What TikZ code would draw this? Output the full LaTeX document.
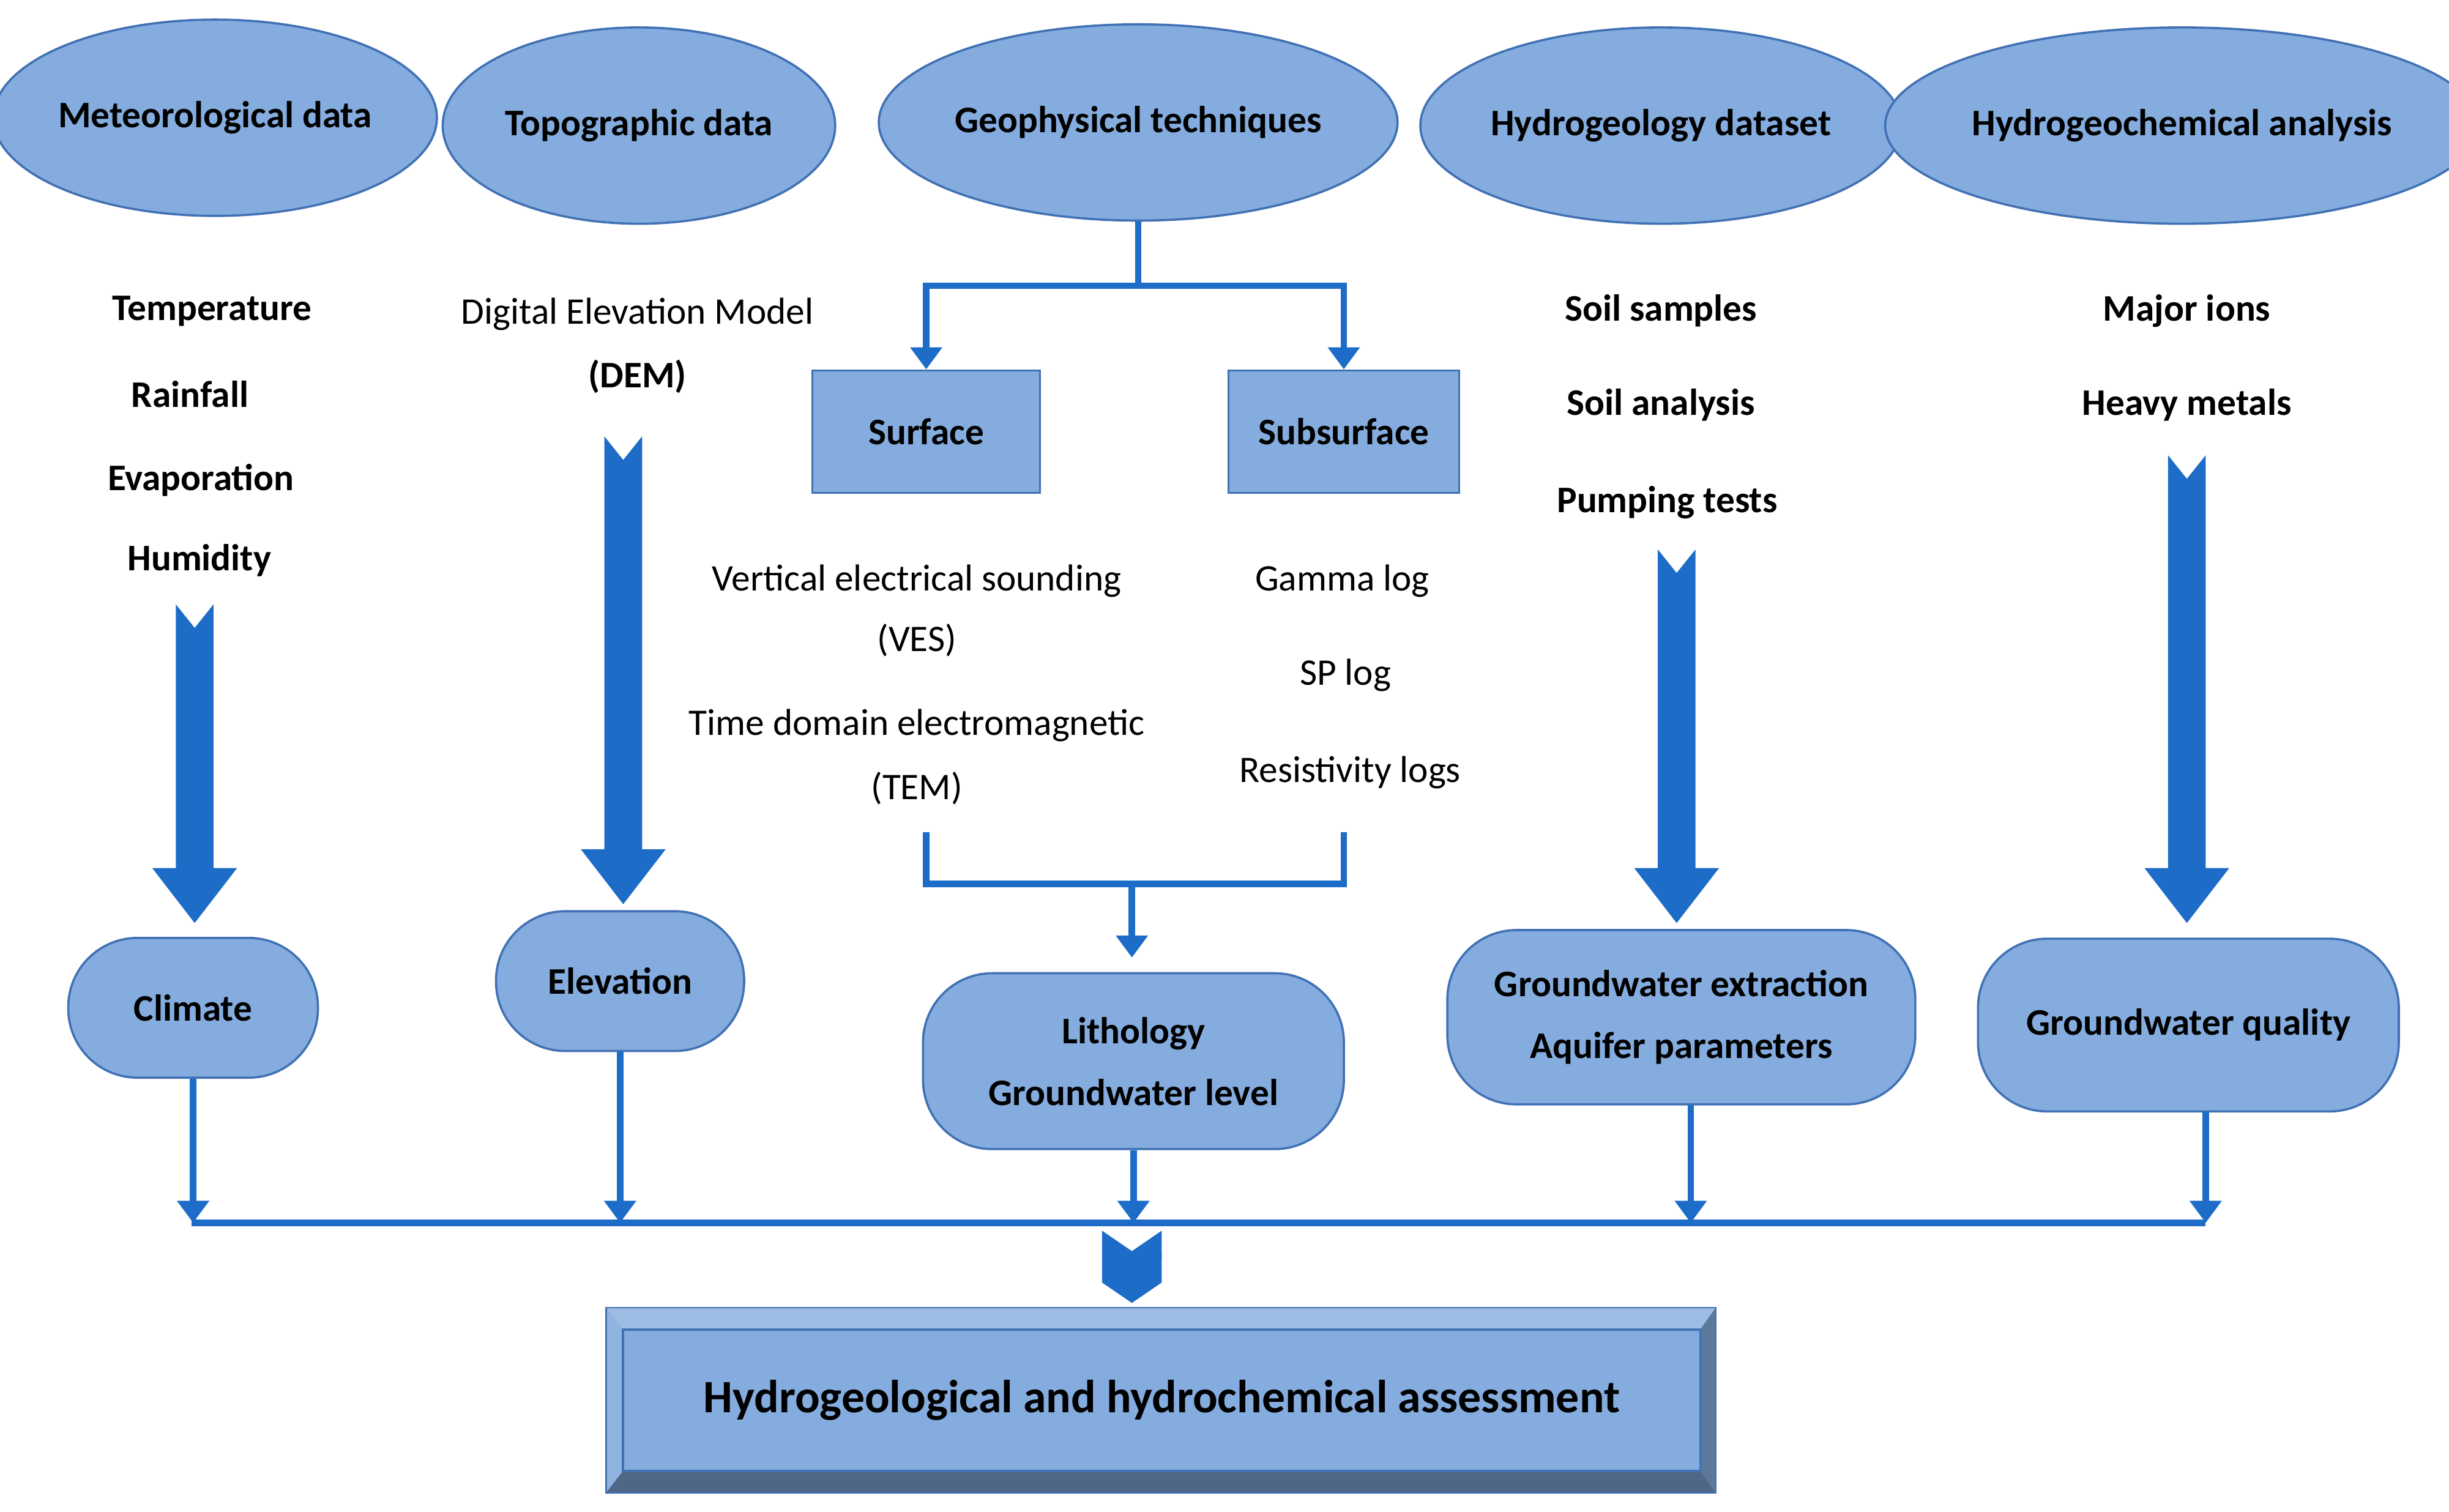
\documentclass[tikz,border=0pt]{standalone}
\usepackage{fontspec}
\setmainfont{Carlito}
\usetikzlibrary{shapes.geometric,arrows.meta}
\definecolor{fillb}{RGB}{132,172,222}
\definecolor{edgeb}{RGB}{65,113,180}
\definecolor{arrb}{RGB}{28,108,200}
\begin{document}
\begin{tikzpicture}[x=0.025cm,y=-0.025cm,
  ell/.style={ellipse,draw=edgeb,line width=1pt,fill=fillb,minimum width=#1*0.025cm,minimum height=3.125cm,font=\fontsize{17}{20}\selectfont\bfseries,inner sep=0pt},
  rbox/.style={draw=edgeb,line width=1pt,fill=fillb,rounded corners=1.1cm,font=\fontsize{17}{20}\selectfont\bfseries,inner sep=0pt},
  sbox/.style={draw=edgeb,line width=1pt,fill=fillb,font=\fontsize{17}{20}\selectfont\bfseries,inner sep=0pt},
  txt/.style={font=\fontsize{17}{20}\selectfont\bfseries},
  ntxt/.style={font=\fontsize{17}{20}\selectfont},
  conn/.style={draw=arrb,line width=3pt},
  carr/.style={conn,-{Triangle[length=10pt,width=14pt]}},
  big/.style={fill=arrb}]
\useasboundingbox (0,0) rectangle (1560,963);
\newcommand{\bigarrow}[3]{\fill[arrb] (#1-12,#2) -- (#1,#2+15) -- (#1+12,#2) -- (#1+12,#3-35) -- (#1+27,#3-35) -- (#1,#3) -- (#1-27,#3-35) -- (#1-12,#3-35) -- cycle;}
% ellipses
\node[ell=250] (met) at (137,75) {Meteorological data};
\node[ell=250] (topo) at (407,80) {Topographic data};
\node[ell=290] (geo) at (725,78) {Geophysical techniques};
\node[ell=288] (hyd) at (1058,80) {Hydrogeology dataset};
\node[ell=328] (hgc) at (1390,80) {Hydrogeochemical analysis};
% texts
\node[txt] (t1) at (135,198) {Temperature};
\node[txt] (t2) at (121,251) {Rainfall};
\node[txt] (t3) at (128,306) {Evaporation};
\node[txt] (t4) at (127,357) {Humidity};
\node[ntxt] (d1) at (406,200) {Digital Elevation Model};
\node[txt] (d2) at (406,240) {(DEM)};
\node[ntxt] (v1) at (584,370) {Vertical electrical sounding};
\node[ntxt] (v2) at (584,408) {(VES)};
\node[ntxt] (v3) at (584,462) {Time domain electromagnetic};
\node[ntxt] (v4) at (584,502) {(TEM)};
\node[ntxt] (g1) at (855,370) {Gamma log};
\node[ntxt] (g2) at (857,430) {SP log};
\node[ntxt] (g3) at (860,492) {Resistivity logs};
\node[txt] (s1) at (1058,198) {Soil samples};
\node[txt] (s2) at (1058,258) {Soil analysis};
\node[txt] (s3) at (1062,320) {Pumping tests};
\node[txt] (m1) at (1393,198) {Major ions};
\node[txt] (m2) at (1393,258) {Heavy metals};
% big arrows
\bigarrow{124}{385}{588}
\bigarrow{397}{278}{576}
\bigarrow{1068}{350}{588}
\bigarrow{1393}{290}{588}
% surface boxes
\node[sbox,minimum width=3.625cm,minimum height=1.95cm] (surf) at (590,275) {Surface};
\node[sbox,minimum width=3.675cm,minimum height=1.95cm] (sub) at (856,275) {Subsurface};
\coordinate (gj) at (725,182);
\draw[conn] (geo.south) -- (gj);
\draw[carr] (gj) -| (surf.north);
\draw[carr] (gj) -| (sub.north);
% result boxes
\node[rbox,minimum width=3.975cm,minimum height=2.225cm] (clim) at (123,642) {Climate};
\node[rbox,minimum width=3.95cm,minimum height=2.225cm] (elev) at (395,625) {Elevation};
\node[rbox,minimum width=6.7cm,minimum height=2.8cm,align=center] (lith) at (722,676) {Lithology\\[8pt]Groundwater level};
\node[rbox,minimum width=7.45cm,minimum height=2.775cm,align=center] (gwe) at (1071,648) {Groundwater extraction\\[8pt]Aquifer parameters};
\node[rbox,minimum width=6.7cm,minimum height=2.75cm] (gwq) at (1394,653) {Groundwater quality};
% bracket
\coordinate (b1) at (590,530); \coordinate (b2) at (856,530);
\coordinate (bm) at (721,563);
\draw[conn] (b1) |- (bm) -| (b2);
\draw[carr] (bm) -- (721,610);
% bottom connector
\coordinate (hl) at (122,779); \coordinate (hr) at (1405,779);
\draw[conn] (hl) -- (hr);
\draw[carr] (clim.south) -- (clim.south |- hl);
\draw[carr] (elev.south) -- (elev.south |- hl);
\draw[carr] (lith.south) -- (lith.south |- hl);
\draw[carr] (1077,704) -- (1077,779);
\draw[carr] (1405,708) -- (1405,779);
% chevrons
\foreach \y in {784,799}
  \fill[arrb] (702,\y) -- (721,\y+13) -- (740,\y) -- (740,\y+18) -- (721,\y+31) -- (702,\y+18) -- cycle;
% bottom bevel box
\fill[fillb!85!black] (386,833) rectangle (1093,951);
\fill[fillb!80!white] (386,833) -- (1093,833) -- (1083,847) -- (397,847) -- cycle;
\fill[fillb!90!white] (386,833) -- (397,847) -- (397,937) -- (386,951) -- cycle;
\fill[fillb!60!black] (386,951) -- (397,937) -- (1083,937) -- (1093,951) -- cycle;
\fill[fillb!70!black] (1093,833) -- (1083,847) -- (1083,937) -- (1093,951) -- cycle;
\draw[edgeb,line width=0.8pt] (386,833) rectangle (1093,951);
\node[sbox,minimum width=17.15cm,minimum height=2.25cm,font=\fontsize{21}{24}\selectfont\bfseries] (ha) at (740,892) {Hydrogeological and hydrochemical assessment};
\end{tikzpicture}
\end{document}
